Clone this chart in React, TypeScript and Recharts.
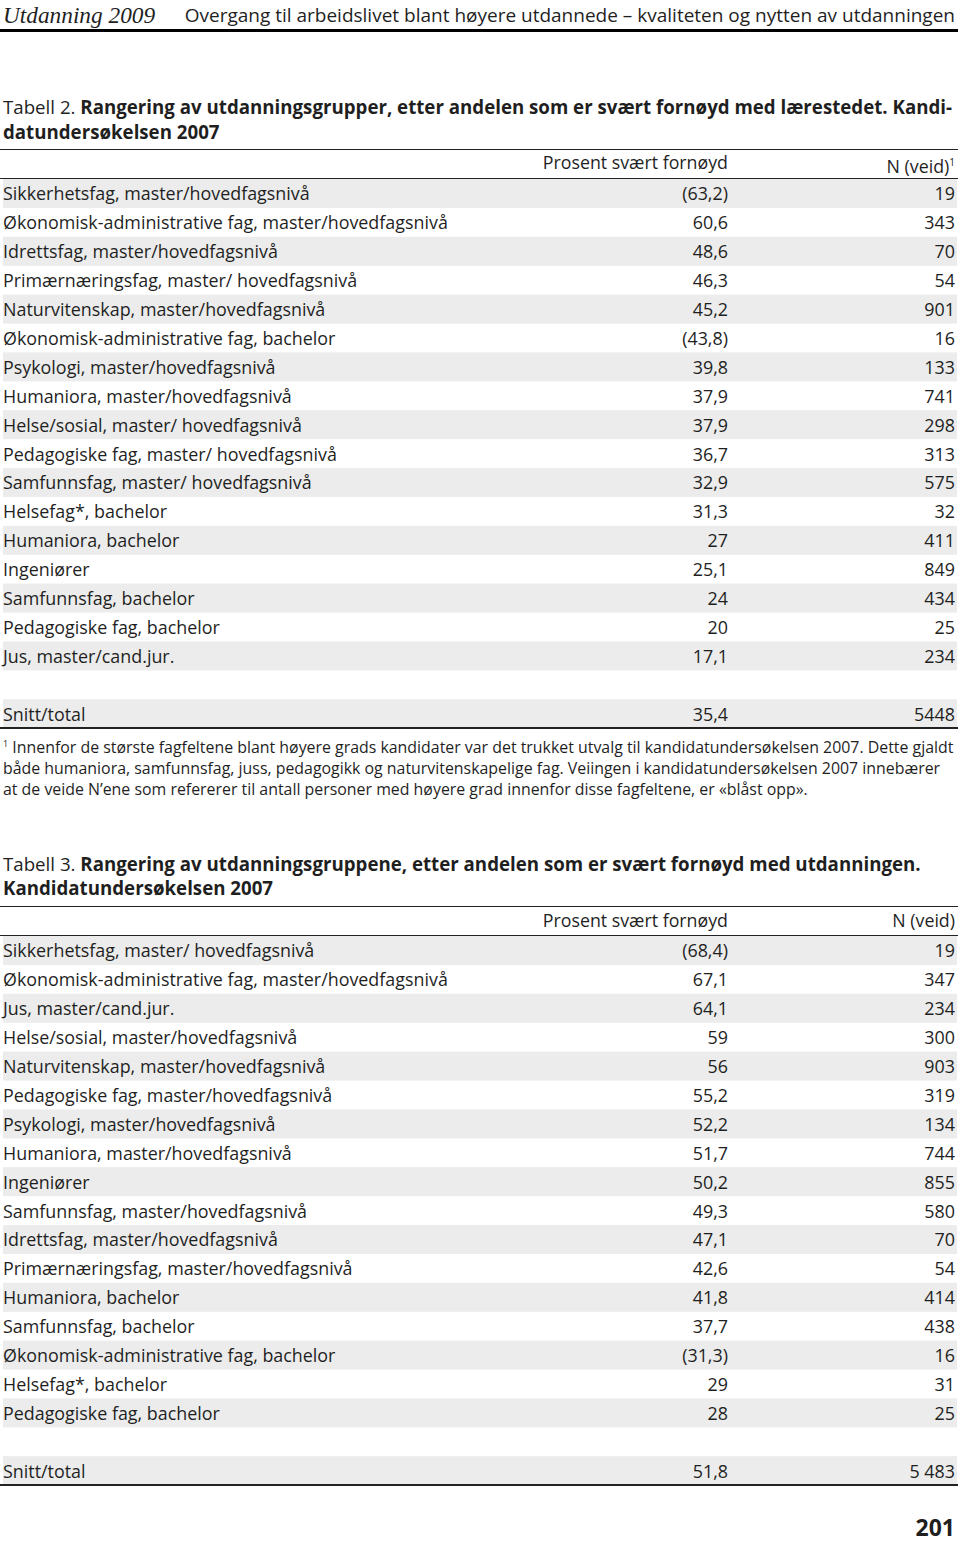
import React from "react";
import { BarChart, Bar, XAxis, YAxis, LabelList } from "recharts";

// Tabell 2 – svært fornøyd med lærestedet
const T2_CATEGORIES = [
  "Sikkerhetsfag, master/hovedfagsnivå",
  "Økonomisk-administrative fag, master/hovedfagsnivå",
  "Idrettsfag, master/hovedfagsnivå",
  "Primærnæringsfag, master/ hovedfagsnivå",
  "Naturvitenskap, master/hovedfagsnivå",
  "Økonomisk-administrative fag, bachelor",
  "Psykologi, master/hovedfagsnivå",
  "Humaniora, master/hovedfagsnivå",
  "Helse/sosial, master/ hovedfagsnivå",
  "Pedagogiske fag, master/ hovedfagsnivå",
  "Samfunnsfag, master/ hovedfagsnivå",
  "Helsefag*, bachelor",
  "Humaniora, bachelor",
  "Ingeniører",
  "Samfunnsfag, bachelor",
  "Pedagogiske fag, bachelor",
  "Jus, master/cand.jur.",
];
const T2_PCT = [63.2, 60.6, 48.6, 46.3, 45.2, 43.8, 39.8, 37.9, 37.9, 36.7, 32.9, 31.3, 27, 25.1, 24, 20, 17.1];
const T2_N = [19, 343, 70, 54, 901, 16, 133, 741, 298, 313, 575, 32, 411, 849, 434, 25, 234];
const T2_TOTAL = { label: "Snitt/total", pct: 35.4, n: 5448 };

// Tabell 3 – svært fornøyd med utdanningen
const T3_CATEGORIES = [
  "Sikkerhetsfag, master/ hovedfagsnivå",
  "Økonomisk-administrative fag, master/hovedfagsnivå",
  "Jus, master/cand.jur.",
  "Helse/sosial, master/hovedfagsnivå",
  "Naturvitenskap, master/hovedfagsnivå",
  "Pedagogiske fag, master/hovedfagsnivå",
  "Psykologi, master/hovedfagsnivå",
  "Humaniora, master/hovedfagsnivå",
  "Ingeniører",
  "Samfunnsfag, master/hovedfagsnivå",
  "Idrettsfag, master/hovedfagsnivå",
  "Primærnæringsfag, master/hovedfagsnivå",
  "Humaniora, bachelor",
  "Samfunnsfag, bachelor",
  "Økonomisk-administrative fag, bachelor",
  "Helsefag*, bachelor",
  "Pedagogiske fag, bachelor",
];
const T3_PCT = [68.4, 67.1, 64.1, 59, 56, 55.2, 52.2, 51.7, 50.2, 49.3, 47.1, 42.6, 41.8, 37.7, 31.3, 29, 28];
const T3_N = [19, 347, 234, 300, 903, 319, 134, 744, 855, 580, 70, 54, 414, 438, 16, 31, 25];
const T3_TOTAL = { label: "Snitt/total", pct: 51.8, n: 5483 };

const FONT = "'Open Sans', sans-serif";
const TEXT = "#1f1f1f";
const STRIPE = "#ebeceb";
const ROW_H = 28.9;
const NAME_LEFT = 3;
const PCT_RIGHT = 728;
const N_RIGHT = 955;
const CELL_SIZE = 17.9;
const TITLE_SIZE = 18.7;

const decimal = (v: number) => String(v).replace(".", ",");

// små utvalg (N under 20) står i parentes
const fmtPct = (v: number, n: number) => (n < 20 ? `(${decimal(v)})` : decimal(v));

const fmtN = (v: number, group: boolean) =>
  group ? String(v).replace(/\B(?=(\d{3})+(?!\d))/g, " ") : String(v);

interface TableProps {
  names: string[];
  pct: number[];
  n: number[];
  total: { label: string; pct: number; n: number };
  groupThousands?: boolean;
}

const textProps = {
  fontFamily: FONT,
  fontSize: CELL_SIZE,
  fill: TEXT,
  dominantBaseline: "central" as const,
};

function RankTable({ names, pct, n, total, groupThousands = false }: TableProps) {
  const rows = [
    ...names.map((name, i) => ({
      name,
      pct: pct[i],
      pctLabel: fmtPct(pct[i], n[i]),
      nLabel: fmtN(n[i], groupThousands),
    })),
    { name: "", pct: null, pctLabel: "", nLabel: "" },
    {
      name: total.label,
      pct: total.pct,
      pctLabel: decimal(total.pct),
      nLabel: fmtN(total.n, groupThousands),
    },
  ];

  const cell = (x: number, anchor: "start" | "end") => (p: any) => {
    if (p.value == null || p.value === "") return null;
    return (
      <text x={x} y={p.y + p.height / 2} textAnchor={anchor} {...textProps}>
        {p.value}
      </text>
    );
  };

  return (
    <BarChart
      width={960}
      height={ROW_H * rows.length}
      data={rows}
      layout="vertical"
      margin={{ top: 0, right: 3, bottom: 0, left: 3 }}
      barCategoryGap={0}
    >
      <XAxis type="number" domain={[0, 100]} hide />
      <YAxis type="category" dataKey="name" hide />
      <Bar
        dataKey="pct"
        fill="none"
        isAnimationActive={false}
        background={(p: any) =>
          Math.round(p.y / p.height) % 2 === 0 ? (
            <rect x={p.x} y={p.y} width={p.width} height={p.height} fill={STRIPE} />
          ) : (
            <g />
          )
        }
      >
        <LabelList dataKey="name" content={cell(NAME_LEFT, "start")} />
        <LabelList dataKey="pctLabel" content={cell(PCT_RIGHT, "end")} />
        <LabelList dataKey="nLabel" content={cell(N_RIGHT, "end")} />
      </Bar>
    </BarChart>
  );
}

const abs = (top: number, extra: React.CSSProperties = {}): React.CSSProperties => ({
  position: "absolute",
  top,
  left: 0,
  width: 960,
  ...extra,
});

const rule = (top: number, h: number, color = "#222"): React.CSSProperties => ({
  position: "absolute",
  top,
  left: 0,
  width: 958,
  height: h,
  background: color,
});

export default function App() {
  const line: React.CSSProperties = {
    fontFamily: FONT,
    color: TEXT,
    whiteSpace: "nowrap",
    paddingLeft: 3,
  };
  const colHead = (right: number, text: React.ReactNode, top: number) => (
    <div
      style={{
        position: "absolute",
        top,
        left: 0,
        width: right,
        textAlign: "right",
        fontFamily: FONT,
        fontSize: 17.8,
        lineHeight: "28px",
        color: TEXT,
        whiteSpace: "nowrap",
      }}
    >
      {text}
    </div>
  );

  return (
    <div
      style={{
        position: "absolute",
        top: 0,
        left: 0,
        width: 960,
        height: 1545,
        background: "#fff",
        overflow: "hidden",
      }}
    >
      {/* sidehode */}
      <div style={abs(2, { height: 26, lineHeight: "26px", color: TEXT, whiteSpace: "nowrap" })}>
        <span
          style={{
            position: "absolute",
            left: 3,
            fontFamily: "'Liberation Serif', serif",
            fontStyle: "italic",
            fontSize: 23.3,
          }}
        >
          Utdanning 2009
        </span>
        <span style={{ position: "absolute", right: 5, fontFamily: FONT, fontSize: 19 }}>
          Overgang til arbeidslivet blant høyere utdannede – kvaliteten og nytten av utdanningen
        </span>
      </div>
      <div style={rule(29, 3, "#000")} />

      {/* Tabell 2 */}
      <div style={abs(94, { ...line, fontSize: TITLE_SIZE, lineHeight: "25px" })}>
        <div>
          Tabell 2. <b>Rangering av utdanningsgrupper, etter andelen som er svært fornøyd med lærestedet. Kandi-</b>
        </div>
        <div>
          <b>datundersøkelsen 2007</b>
        </div>
      </div>
      <div style={rule(149, 1)} />
      {colHead(PCT_RIGHT, "Prosent svært fornøyd", 148)}
      {colHead(
        N_RIGHT,
        <>
          N (veid)<sup style={{ fontSize: 10 }}>1</sup>
        </>,
        148
      )}
      <div style={rule(178, 1)} />
      <div style={{ position: "absolute", top: 179, left: 0 }}>
        <RankTable names={T2_CATEGORIES} pct={T2_PCT} n={T2_N} total={T2_TOTAL} />
      </div>
      <div style={rule(727, 2)} />
      <div style={abs(733, { ...line, fontSize: 15.9, lineHeight: "21px" })}>
        <div>
          <sup style={{ fontSize: 9 }}>1</sup> Innenfor de største fagfeltene blant høyere grads kandidater var det trukket utvalg til kandidatundersøkelsen 2007. Dette gjaldt
        </div>
        <div>
          både humaniora, samfunnsfag, juss, pedagogikk og naturvitenskapelige fag. Veiingen i kandidatundersøkelsen 2007 innebærer
        </div>
        <div>at de veide N’ene som refererer til antall personer med høyere grad innenfor disse fagfeltene, er «blåst opp».</div>
      </div>

      {/* Tabell 3 */}
      <div style={abs(852, { ...line, fontSize: TITLE_SIZE, lineHeight: "24px" })}>
        <div>
          Tabell 3. <b>Rangering av utdanningsgruppene, etter andelen som er svært fornøyd med utdanningen.</b>
        </div>
        <div>
          <b>Kandidatundersøkelsen 2007</b>
        </div>
      </div>
      <div style={rule(906, 1)} />
      {colHead(PCT_RIGHT, "Prosent svært fornøyd", 906)}
      {colHead(N_RIGHT, "N (veid)", 906)}
      <div style={rule(935, 1)} />
      <div style={{ position: "absolute", top: 936, left: 0 }}>
        <RankTable names={T3_CATEGORIES} pct={T3_PCT} n={T3_N} total={T3_TOTAL} groupThousands />
      </div>
      <div style={rule(1484, 2)} />

      <div
        style={{
          position: "absolute",
          top: 1514,
          right: 5,
          fontFamily: FONT,
          fontWeight: 700,
          fontSize: 23,
          lineHeight: "26px",
          color: TEXT,
        }}
      >
        201
      </div>
    </div>
  );
}
